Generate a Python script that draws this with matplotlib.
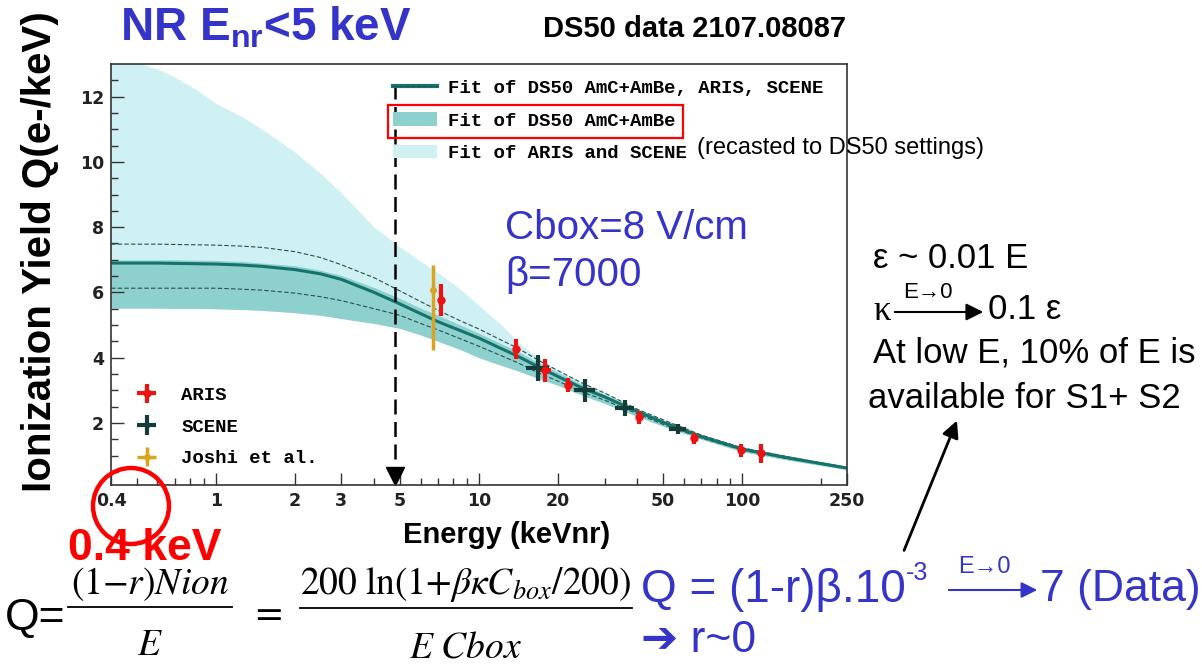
import matplotlib
matplotlib.use('Agg')
import matplotlib.pyplot as plt
import matplotlib.patches as patches
from matplotlib.lines import Line2D
from matplotlib.legend_handler import HandlerTuple

plt.rcParams['font.family'] = ['Liberation Sans', 'DejaVu Sans']
plt.rcParams['mathtext.fontset'] = 'custom'
plt.rcParams['mathtext.rm'] = 'Liberation Sans'
plt.rcParams['mathtext.bf'] = 'Liberation Sans:bold'
plt.rcParams['mathtext.it'] = 'Liberation Sans:italic'

W, H = 1202, 668

# fit curves (energy in keVnr, Q in e-/keV)
energy = [0.4, 0.5, 0.6, 0.7, 0.85, 1, 1.25, 1.5, 2, 2.5, 3, 4, 5, 6, 7, 8.5, 10, 12, 14, 17,
          20, 25, 30, 40, 50, 70, 100, 150, 250]
fit_central = [6.9, 6.9, 6.9, 6.89, 6.88, 6.87, 6.84, 6.8, 6.7, 6.57, 6.4, 6.0, 5.65, 5.35, 5.1, 4.83,
               4.6, 4.3, 4.05, 3.7, 3.42, 3.05, 2.8, 2.35, 2.02, 1.58, 1.2, 0.93, 0.62]
fit_upper = [7.48, 7.48, 7.48, 7.47, 7.46, 7.45, 7.42, 7.38, 7.25, 7.07, 6.85, 6.45, 6.05, 5.72, 5.45, 5.13,
             4.88, 4.56, 4.3, 3.9, 3.6, 3.2, 2.92, 2.42, 2.1, 1.63, 1.24, 0.96, 0.64]
fit_lower = [6.13, 6.13, 6.13, 6.13, 6.13, 6.13, 6.1, 6.07, 5.98, 5.87, 5.75, 5.5, 5.3, 5.05, 4.85, 4.58,
             4.35, 4.08, 3.85, 3.52, 3.28, 2.93, 2.7, 2.28, 1.96, 1.54, 1.17, 0.9, 0.6]
ds50_low = [5.52, 5.52, 5.52, 5.51, 5.51, 5.5, 5.48, 5.45, 5.38, 5.3, 5.2, 5.05, 4.9, 4.7, 4.5, 4.25,
            4.0, 3.78, 3.6, 3.35, 3.15, 2.83, 2.6, 2.2, 1.9, 1.5, 1.12, 0.86, 0.57]
ds50_high = [7.0, 7.0, 7.0, 7.0, 6.99, 6.98, 6.95, 6.9, 6.82, 6.68, 6.52, 6.15, 5.82, 5.52, 5.3, 5.0,
             4.75, 4.45, 4.2, 3.83, 3.55, 3.16, 2.88, 2.42, 2.1, 1.65, 1.26, 0.98, 0.66]
aris_scene_high = [13.3, 13.05, 12.85, 12.6, 12.2, 11.8, 11.4, 11.0, 10.3, 9.65, 9.05, 8.0, 7.4, 6.95, 6.6,
                   6.1, 5.6, 5.05, 4.5, 3.95, 3.6, 3.2, 2.92, 2.44, 2.1, 1.65, 1.26, 0.98, 0.66]

# measurements
aris_e = [7.2, 13.8, 17.8, 21.8, 40.6, 65.6, 99, 118]
aris_q = [5.77, 4.26, 3.62, 3.16, 2.18, 1.53, 1.17, 1.07]
aris_xerr = [0.1, 0.2, 0.9, 0.3, 0.6, 1.0, 1.5, 1.8]
aris_yerr = [0.5, 0.3, 0.35, 0.22, 0.2, 0.17, 0.2, 0.3]

scene_e = [16.8, 25.3, 35.9, 57]
scene_q = [3.68, 3.0, 2.45, 1.82]
scene_xerr = [1.7, 2.4, 2.9, 4.2]
scene_yerr = [0.4, 0.36, 0.25, 0.15]

joshi_e = [6.7]
joshi_q = [6.07]
joshi_yerr_lo = [1.84]
joshi_yerr_hi = [0.77]

e_cut = 4.8

xticks_major = [0.4, 1, 2, 3, 5, 10, 20, 50, 100, 250]
xticks_minor = [0.5, 0.6, 0.7, 0.8, 0.9, 4, 6, 7, 8, 9, 30, 40, 60, 70, 80, 90, 200]

blue = '#3434c8'
light = '#d0f1f3'
dark = '#8dd0ce'
teal = '#15736c'


def fx(px):
    return px / W


def fy(py):
    return 1 - py / H


fig = plt.figure(figsize=(W / 100, H / 100), dpi=100)
ax = fig.add_axes([fx(111), fy(485), (847 - 111) / W, (485 - 64) / H])

band_light = ax.fill_between(energy, ds50_low, aris_scene_high, color=light, lw=0)
band_dark = ax.fill_between(energy, ds50_low, ds50_high, color=dark, lw=0)
ax.plot(energy, fit_upper, color='#2c4f4c', lw=0.8, ls=(0, (4, 2)))
ax.plot(energy, fit_lower, color='#2c4f4c', lw=0.8, ls=(0, (4, 2)))
ax.plot(energy, fit_central, color=teal, lw=2.2)

# vertical cut at 5 keV
ax.plot([e_cut, e_cut], [12.4, 0.55], color='k', lw=1.8, ls=(0, (6, 3)))
ax.plot(e_cut, 0.38, marker='v', ms=13, color='k', clip_on=False)

eb_joshi = ax.errorbar(joshi_e, joshi_q, yerr=[joshi_yerr_lo, joshi_yerr_hi], xerr=[0.08],
                       fmt='o', ms=4, color='#d9a521', elinewidth=2.5, capsize=0)
eb_aris = ax.errorbar(aris_e, aris_q, yerr=aris_yerr, xerr=aris_xerr,
                      fmt='o', ms=5, color='#ee1111', elinewidth=3, capsize=0)
eb_scene = ax.errorbar(scene_e, scene_q, yerr=scene_yerr, xerr=scene_xerr,
                       fmt='o', ms=3, color='#143d39', elinewidth=3, capsize=0)

ax.set_xscale('log')
ax.set_xlim(0.4, 250)
ax.set_ylim(0.1, 13)
ax.set_xticks(xticks_major)
ax.set_xticklabels([f'{t:g}' for t in xticks_major])
ax.set_xticks(xticks_minor, minor=True)
ax.set_xticklabels([], minor=True)
ax.set_yticks([2, 4, 6, 8, 10, 12])
ax.set_yticks([v * 0.5 for v in range(1, 26)], minor=True)
ax.tick_params(which='both', direction='in', color='#333333', width=1)
ax.tick_params(which='major', length=9, labelsize=12.5, pad=5)
ax.tick_params(which='minor', length=5)
for lab in ax.get_xticklabels() + ax.get_yticklabels():
    lab.set_family('DejaVu Sans')
    lab.set_fontweight('bold')
    lab.set_color('#222222')
for sp in ax.spines.values():
    sp.set_color('#333333')
    sp.set_linewidth(1.2)

mono = {'family': 'Liberation Mono', 'weight': 'bold', 'size': 13.7}
fit_handle = (Line2D([], [], color=teal, lw=3), Line2D([], [], color='#2c4f4c', lw=0.8, ls='--'))
leg1 = ax.legend([fit_handle, band_dark, band_light],
                 ['Fit of DS50 AmC+AmBe, ARIS, SCENE', 'Fit of DS50 AmC+AmBe', 'Fit of ARIS and SCENE'],
                 handler_map={tuple: HandlerTuple(ndivide=1)},
                 loc='center left', bbox_to_anchor=(0.383, 0.8646), frameon=False, prop=mono,
                 handlelength=2.3, handletextpad=0.6, labelspacing=0.8, borderpad=0, borderaxespad=0)
ax.add_artist(leg1)
ax.legend([eb_aris, eb_scene, eb_joshi], ['ARIS', 'SCENE', 'Joshi et al.'],
          loc='center left', bbox_to_anchor=(0.023, 0.1378), frameon=False, prop=mono,
          handlelength=2.0, handletextpad=0.8, labelspacing=0.76, borderpad=0, borderaxespad=0)

# slide annotations
fig.text(fx(120), fy(28), r'NR E$_{\mathbf{nr}}$<5 keV', color=blue, fontsize=33, weight='bold', va='center')
fig.text(fx(543), fy(29), 'DS50 data 2107.08087', fontsize=21, weight='bold', va='center')
fig.text(fx(40), fy(252), 'Ionization Yield Q(e-/keV)', rotation=90, fontsize=29, weight='bold',
         ha='center', va='center')
fig.text(fx(403), fy(535), 'Energy (keVnr)', fontsize=21, weight='bold', va='center')
fig.text(fx(68), fy(548), '0.4 keV', color='#ff0000', fontsize=32, weight='bold', va='center')
fig.add_artist(patches.Ellipse((fx(131), fy(506)), 76 / W, 76 / H, transform=fig.transFigure,
                               fill=False, ec='#ff0000', lw=3.2))
fig.add_artist(patches.Rectangle((fx(388), fy(138)), 295 / W, 33 / H, transform=fig.transFigure,
                                 fill=False, ec='#ff0000', lw=1.6))
fig.text(fx(697), fy(148), '(recasted to DS50 settings)', fontsize=17, va='center')
fig.text(fx(505), fy(228), 'Cbox=8 V/cm', color=blue, fontsize=29, va='center')
fig.text(fx(505), fy(275), 'β=7000', color=blue, fontsize=29, va='center')

fig.text(fx(873), fy(258), 'ε ~ 0.01 E', fontsize=25, va='center')
fig.text(fx(873), fy(312), 'κ', fontsize=25, va='center', family='Liberation Serif')
fig.text(fx(903), fy(292), 'E→0', fontsize=16, va='center')
ax.annotate('', xy=(fx(986), fy(312)), xytext=(fx(892), fy(312)), xycoords='figure fraction',
            arrowprops=dict(arrowstyle='-|>', color='k', lw=1.5, mutation_scale=26))
fig.text(fx(988), fy(310), '0.1 ε', fontsize=25, va='center')
fig.text(fx(873), fy(353), 'At low E, 10% of E is', fontsize=25, va='center')
fig.text(fx(868), fy(398), 'available for S1+ S2', fontsize=25, va='center')
ax.annotate('', xy=(fx(958), fy(418)), xytext=(fx(903), fy(553)), xycoords='figure fraction',
            arrowprops=dict(arrowstyle='-|>', color='k', lw=2, mutation_scale=25))

# Q formula, built from numerators, bars and denominators
fig.text(fx(5), fy(618), 'Q=', fontsize=32, va='center')
fig.text(fx(150), fy(584), r'$(1{-}r)Nion$', math_fontfamily='stix', fontsize=27, ha='center', va='center')
fig.add_artist(Line2D([fx(68), fx(232)], [fy(607), fy(607)], transform=fig.transFigure, color='k', lw=1.3))
fig.text(fx(150), fy(645), r'$E$', math_fontfamily='stix', fontsize=27, ha='center', va='center')
fig.text(fx(266), fy(613), r'$=$', math_fontfamily='stix', fontsize=28, ha='center', va='center')
fig.text(fx(466), fy(584), r'$200\ \ln(1{+}\beta\kappa C_{box}/200)$', math_fontfamily='stix', fontsize=27,
         ha='center', va='center')
fig.add_artist(Line2D([fx(300), fx(632)], [fy(608), fy(608)], transform=fig.transFigure, color='k', lw=1.3))
fig.text(fx(466), fy(647), r'$E\ Cbox$', math_fontfamily='stix', fontsize=27, ha='center', va='center')

fig.text(fx(641), fy(590), 'Q = (1-r)β.10', color=blue, fontsize=33, va='center')
fig.text(fx(906), fy(573), '-3', color=blue, fontsize=18, va='center')
fig.text(fx(958), fy(567), 'E→0', color=blue, fontsize=17, va='center')
ax.annotate('', xy=(fx(1040), fy(590)), xytext=(fx(946), fy(590)), xycoords='figure fraction',
            arrowprops=dict(arrowstyle='-|>', color=blue, lw=1.5, mutation_scale=24))
fig.text(fx(1040), fy(590), '7 (Data)', color=blue, fontsize=32, va='center')
fig.text(fx(641), fy(640), '➔ r~0', color=blue, fontsize=32, va='center')

fig.savefig('out.png', dpi=100, facecolor='white')
